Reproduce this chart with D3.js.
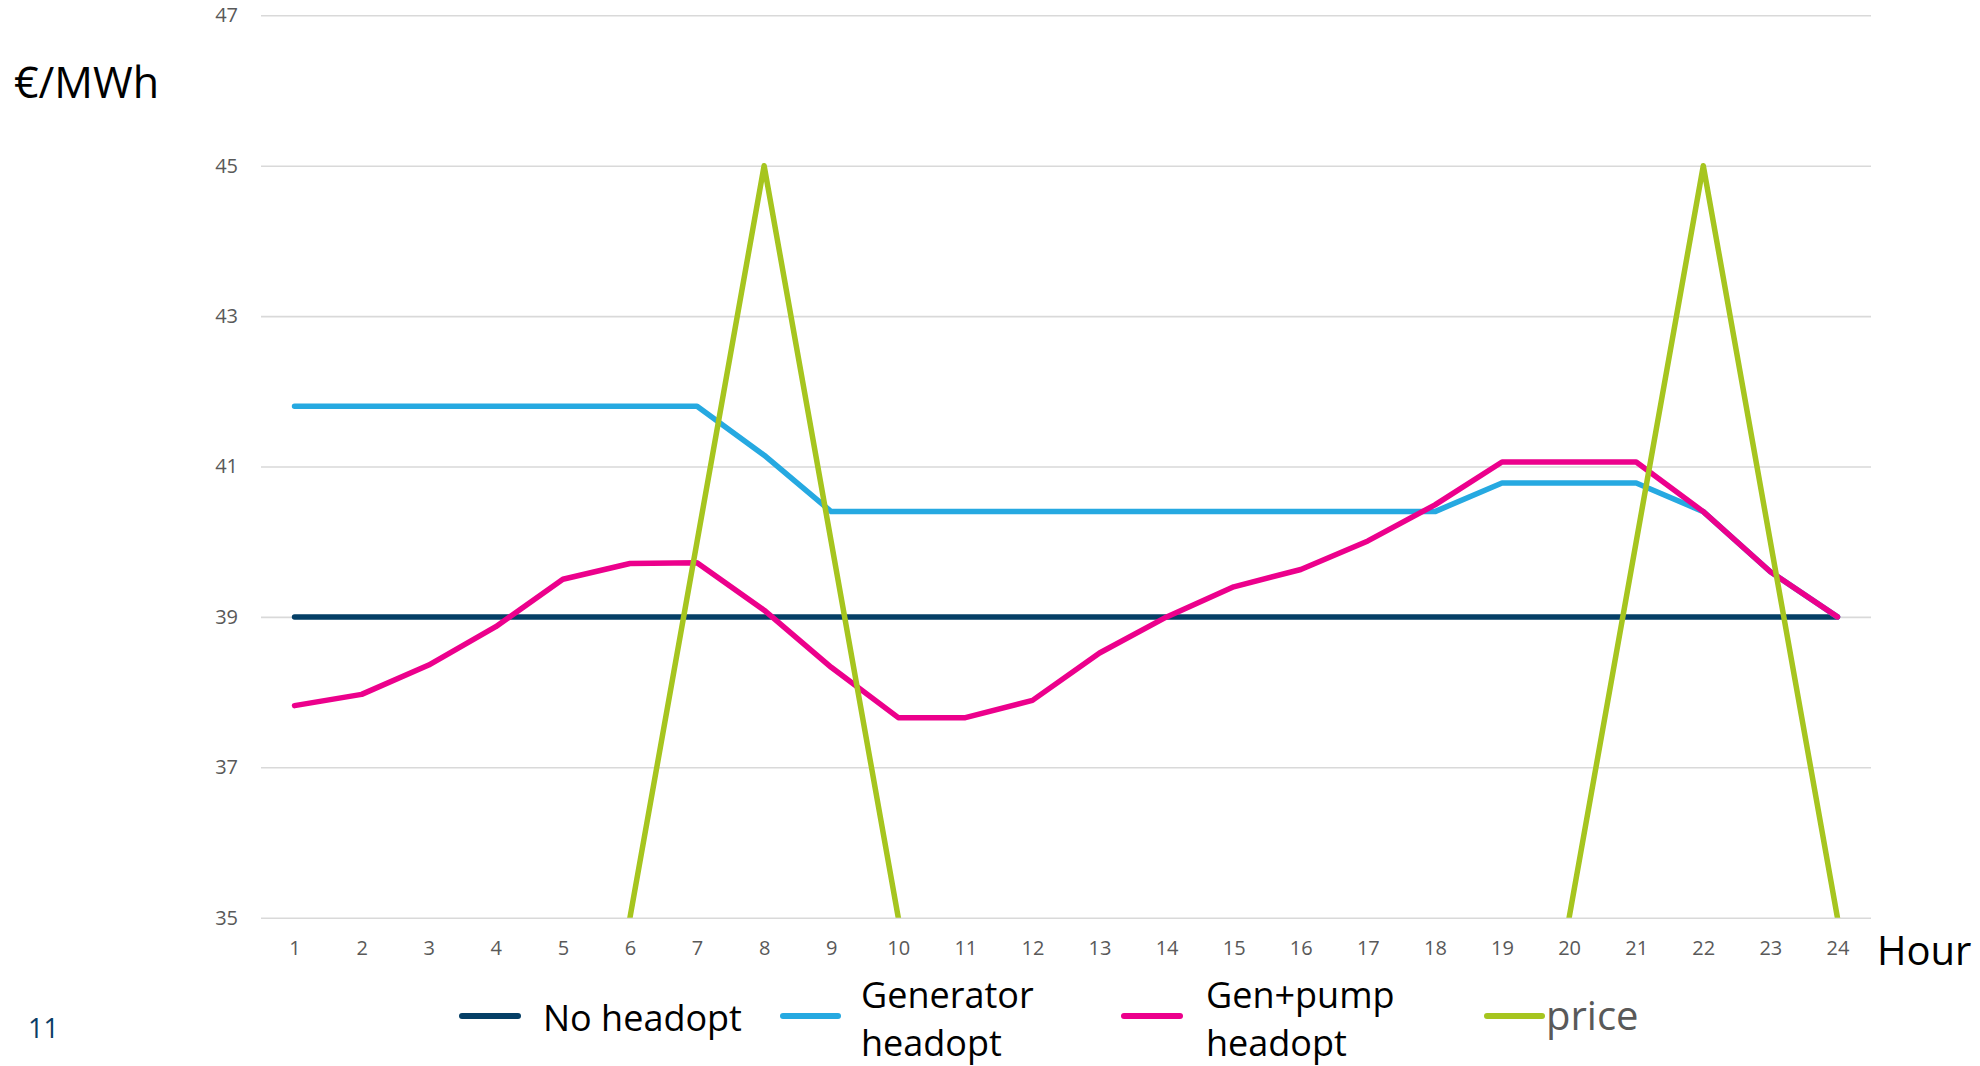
<!DOCTYPE html>
<html>
<head>
<meta charset="utf-8">
<script src="https://cdn.jsdelivr.net/npm/d3@7"></script>
<style>
  html, body { margin: 0; padding: 0; background: #fff; }
  svg { display: block; font-family: "Open Sans", "Noto Sans", sans-serif; }
</style>
</head>
<body>
<svg id="chart" width="1980" height="1066"></svg>
<script>
// Hourly marginal prices (€/MWh) under three head-optimisation cases, plus spot price
const hours = d3.range(1, 25);
const yTicks = [35, 37, 39, 41, 43, 45, 47];

const noHeadopt = [39, 39, 39, 39, 39, 39, 39, 39, 39, 39, 39, 39,
                   39, 39, 39, 39, 39, 39, 39, 39, 39, 39, 39, 39];
const generatorHeadopt = [41.8, 41.8, 41.8, 41.8, 41.8, 41.8, 41.8, 41.15, 40.4, 40.4, 40.4, 40.4,
                          40.4, 40.4, 40.4, 40.4, 40.4, 40.4, 40.78, 40.78, 40.78, 40.4, 39.6, 39];
const genPumpHeadopt = [37.82, 37.97, 38.36, 38.87, 39.5, 39.71, 39.72, 39.09, 38.33, 37.66, 37.66, 37.89,
                        38.52, 39.0, 39.4, 39.63, 40.01, 40.49, 41.06, 41.06, 41.06, 40.4, 39.6, 39];
// off-peak hours sit below the axis floor and are clipped by the plot area
const price = [30, 30, 30, 30, 30, 35, 40, 45, 40, 35, 30, 30,
               30, 30, 30, 30, 30, 30, 30, 35, 40, 45, 40, 35];

const seriesNames = ["No headopt", "Generator\nheadopt", "Gen+pump\nheadopt", "price"];
const seriesColors = ["#053f66", "#26a9e1", "#ec008c", "#a6c51f"];
const seriesValues = [noHeadopt, generatorHeadopt, genPumpHeadopt, price];

const plot = { left: 261, right: 1871, top: 15.3, bottom: 917.7 };

const svg = d3.select("#chart");

const x = d3.scalePoint().domain(hours).range([plot.left, plot.right]).padding(0.5);
const y = d3.scaleLinear().domain([35, 47]).range([plot.bottom, plot.top]);

// Horizontal gridlines with value labels
const yAxis = svg.append("g")
  .attr("transform", `translate(${plot.left},0)`)
  .call(d3.axisLeft(y).tickValues(yTicks).tickSize(-(plot.right - plot.left)).tickPadding(23));
yAxis.select(".domain").remove();
yAxis.selectAll(".tick line").attr("stroke", "#d9d9d9").attr("stroke-width", 1.6);
yAxis.selectAll(".tick text")
  .attr("fill", "#595959").attr("font-size", 20)
  .attr("font-family", "'Open Sans', sans-serif");

// Hour axis
const xAxis = svg.append("g")
  .attr("transform", `translate(0,${plot.bottom})`)
  .call(d3.axisBottom(x).tickSize(0).tickPadding(23));
xAxis.select(".domain").remove();
xAxis.selectAll(".tick text")
  .attr("fill", "#595959").attr("font-size", 20)
  .attr("font-family", "'Open Sans', sans-serif");

svg.append("defs").append("clipPath").attr("id", "plot-clip")
  .append("rect")
  .attr("x", plot.left).attr("y", plot.top - 10)
  .attr("width", plot.right - plot.left)
  .attr("height", plot.bottom - plot.top + 10);

const line = d3.line().x((d, i) => x(hours[i])).y(d => y(d));

const lines = svg.append("g").attr("clip-path", "url(#plot-clip)");
seriesValues.forEach((vals, k) => {
  lines.append("path")
    .datum(vals)
    .attr("d", line)
    .attr("fill", "none")
    .attr("stroke", seriesColors[k])
    .attr("stroke-width", 5.5)
    .attr("stroke-linejoin", "round")
    .attr("stroke-linecap", "round");
});

// Axis titles
svg.append("text").attr("x", 14).attr("y", 98)
  .attr("font-size", 43).attr("fill", "#000").text("€/MWh");
svg.append("text").attr("x", 1877).attr("y", 965)
  .attr("font-size", 40).attr("fill", "#000").text("Hour");

// Slide number
svg.append("text").attr("x", 28).attr("y", 1038)
  .attr("font-size", 27).attr("fill", "#0b3d66").text("11");

// Legend
const legendLayout = [
  { x0: 462, x1: 518, tx: 543, base: 1031, size: 36, color: "#000" },
  { x0: 783, x1: 838, tx: 861, base: 1008, size: 36, color: "#000" },
  { x0: 1124, x1: 1180, tx: 1206, base: 1008, size: 36, color: "#000" },
  { x0: 1487, x1: 1542, tx: 1546, base: 1030, size: 40, color: "#595959" }
];
const legend = svg.append("g");
seriesNames.forEach((name, k) => {
  const L = legendLayout[k];
  legend.append("line")
    .attr("x1", L.x0).attr("x2", L.x1).attr("y1", 1016).attr("y2", 1016)
    .attr("stroke", seriesColors[k]).attr("stroke-width", 6)
    .attr("stroke-linecap", "round");
  const t = legend.append("text")
    .attr("x", L.tx).attr("y", L.base)
    .attr("font-size", L.size).attr("fill", L.color);
  name.split("\n").forEach((part, j) => {
    t.append("tspan").attr("x", L.tx).attr("dy", j === 0 ? 0 : 48).text(part);
  });
});
</script>
</body>
</html>
